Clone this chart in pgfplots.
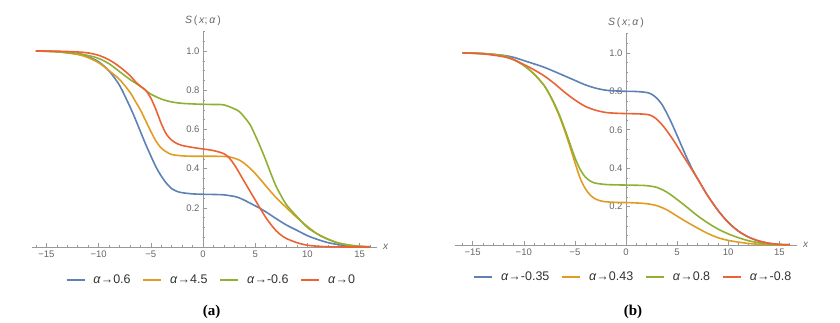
\documentclass[border=0pt]{standalone}
\usepackage{fontspec}
\setmainfont{Liberation Sans}
\newfontfamily\panelfont{Liberation Serif}
\usepackage{pgfplots}
\pgfplotsset{compat=1.18}

\definecolor{mblue}{HTML}{5E81B5}
\definecolor{morange}{HTML}{E19C24}
\definecolor{mgreen}{HTML}{8FB032}
\definecolor{mred}{HTML}{EB6235}

\pgfplotsset{
  mma/.style={
    scale only axis, axis lines=middle,
    axis line style={-, draw=black!40, line width=0.6pt},
    ymin=0, ymax=1.102,
    tick align=inside, major tick length=4pt, minor tick length=2pt,
    every tick/.style={black!40, line width=0.5pt},
    hide obscured x ticks=false,
    xtick={-15,-10,-5,0,5,10,15},
    xticklabels={−15,−10,−5,0,5,10,15},
    minor xtick={-16,...,16},
    ytick={0.2,0.4,0.6,0.8,1.0},
    yticklabels={0.2,0.4,0.6,0.8,1.0},
    minor ytick={0.05,0.1,...,1.1},
    ticklabel style={font=\fontsize{9.5}{11}\selectfont, text=black!60},
    xlabel={\textit{x}},
    xlabel style={at={(rel axis cs:1,0)}, anchor=west, xshift=3pt,
      font=\fontsize{10}{12}\selectfont, text=black!60},
    ylabel={\textit{S}\,(\,\textit{x};\,\textit{α}\,)},
    ylabel style={at={(axis cs:0,1.102)}, anchor=south, rotate=0, yshift=2pt,
      font=\fontsize{10.5}{12}\selectfont, text=black!60},
    every axis plot/.append style={line width=1.6pt, smooth, no markers},
    legend columns=4,
    legend image code/.code={\draw[##1] (0pt,0pt) -- (18pt,0pt);},
    legend style={draw=none, fill=none, anchor=center, inner sep=0pt,
      font=\fontsize{12.5}{14}\selectfont, text=black!80,
      nodes={inner sep=0pt},
      /tikz/every odd column/.append style={column sep=8pt},
      /tikz/every even column/.append style={column sep=12pt}},
  }
}

\begin{document}
\begin{tikzpicture}
\path[use as bounding box] (0pt,0pt) rectangle (840pt,322pt);

% (a)
\begin{axis}[mma, at={(31.7pt,75pt)}, anchor=south west,
  width=345pt, height=216pt, xmin=-16.41, xmax=16.64,
  legend style={at={(0.518,-0.153)}}]
\addplot[mblue] coordinates {
(-16,1.000) (-14,0.997) (-12,0.985) (-11,0.970) (-10,0.945) (-9,0.898) (-8,0.825)
(-7,0.716) (-6.5,0.655) (-6,0.590) (-5.5,0.525) (-5,0.465) (-4.5,0.408) (-4,0.362)
(-3.5,0.325) (-3,0.298) (-2.5,0.284) (-2,0.277) (-1,0.271) (0,0.269) (1,0.268)
(2,0.266) (3,0.258) (3.5,0.250) (4,0.238) (4.5,0.224) (5,0.210) (5.5,0.196)
(6,0.180) (7,0.145) (8,0.112) (9,0.085) (10,0.058) (11,0.038) (12,0.022)
(13,0.012) (14,0.005) (15,0.002) (16,0.0005)};
\addplot[morange] coordinates {
(-16,1.000) (-14,0.996) (-12,0.982) (-11,0.966) (-10,0.940) (-9,0.900) (-8,0.855)
(-7,0.790) (-6.5,0.745) (-6,0.700) (-5.5,0.645) (-5,0.590) (-4.5,0.540) (-4,0.505)
(-3.5,0.485) (-3,0.472) (-2,0.465) (-1,0.463) (0,0.463) (1,0.463) (2,0.462)
(2.5,0.460) (3,0.453) (3.5,0.443) (4,0.425) (4.5,0.402) (5,0.375) (5.5,0.345)
(6,0.313) (6.5,0.282) (7,0.252) (8,0.200) (9,0.150) (10,0.105) (11,0.065)
(12,0.038) (13,0.020) (14,0.009) (15,0.003) (16,0.001)};
\addplot[mgreen] coordinates {
(-16,1.000) (-14,0.996) (-12,0.987) (-11,0.977) (-10,0.962) (-9,0.935) (-8,0.895)
(-7,0.855) (-6,0.820) (-5.5,0.800) (-5,0.780) (-4,0.755) (-3,0.740) (-2,0.733)
(-1,0.730) (0,0.728) (1,0.727) (2,0.725) (3,0.705) (3.5,0.690) (4,0.660)
(4.5,0.625) (5,0.570) (5.5,0.510) (6,0.445) (6.5,0.375) (7,0.310) (7.5,0.260)
(8,0.215) (9,0.155) (10,0.100) (11,0.065) (12,0.040) (13,0.020) (14,0.010)
(15,0.004) (16,0.001)};
\addplot[mred] coordinates {
(-16,1.000) (-14,0.999) (-12,0.995) (-11,0.990) (-10,0.978) (-9,0.955) (-8,0.920)
(-7,0.875) (-6.5,0.845) (-6,0.820) (-5.5,0.800) (-5,0.760) (-4.5,0.700) (-4,0.630)
(-3.5,0.575) (-3,0.545) (-2.5,0.528) (-2,0.518) (-1,0.508) (0,0.500) (1,0.492)
(2,0.476) (2.5,0.455) (3,0.420) (3.5,0.376) (4,0.330) (4.5,0.285) (5,0.240)
(5.5,0.195) (6,0.152) (6.5,0.115) (7,0.083) (7.5,0.060) (8,0.043) (9,0.022)
(10,0.009) (11,0.004) (12,0.001) (14,0) (16,0)};
\legend{\textit{α}→0.6, \textit{α}→4.5, \textit{α}→-0.6, \textit{α}→0}
\end{axis}

% (b)
\begin{axis}[mma, at={(455pt,77pt)}, anchor=south west,
  width=341.7pt, height=211.7pt, xmin=-16.73, xmax=16.7,
  legend style={at={(0.519,-0.151)}}]
\addplot[mblue] coordinates {
(-16,1.000) (-14,0.997) (-12,0.987) (-11,0.977) (-10,0.960) (-9,0.943) (-8,0.925)
(-7,0.903) (-6,0.880) (-5,0.857) (-4,0.834) (-3,0.817) (-2,0.806) (-1,0.802)
(0,0.800) (1,0.799) (2,0.794) (2.5,0.785) (3,0.765) (3.5,0.733) (4,0.685)
(4.5,0.630) (5,0.570) (5.5,0.508) (6,0.448) (6.5,0.393) (7,0.345) (7.5,0.300)
(8,0.256) (9,0.180) (10,0.118) (11,0.072) (12,0.041) (13,0.021) (14,0.009)
(15,0.003) (16,0.001)};
\addplot[morange] coordinates {
(-16,1.000) (-14,0.996) (-12,0.985) (-11,0.965) (-10,0.935) (-9,0.890) (-8,0.830)
(-7.5,0.785) (-7,0.730) (-6.5,0.668) (-6,0.595) (-5.5,0.515) (-5,0.430) (-4.5,0.350)
(-4,0.295) (-3.5,0.260) (-3,0.240) (-2.5,0.230) (-2,0.225) (-1,0.222) (0,0.221)
(1,0.219) (2,0.215) (3,0.205) (4,0.183) (5,0.150) (6,0.118) (7,0.088) (8,0.060)
(9,0.038) (10,0.024) (11,0.015) (12,0.008) (13,0.004) (14,0.002) (15,0.001) (16,0)};
\addplot[mgreen] coordinates {
(-16,1.000) (-14,0.996) (-12,0.985) (-11,0.965) (-10,0.935) (-9,0.890) (-8,0.830)
(-7.5,0.785) (-7,0.735) (-6.5,0.675) (-6,0.605) (-5.5,0.530) (-5,0.455) (-4.5,0.395)
(-4,0.355) (-3.5,0.333) (-3,0.322) (-2,0.315) (-1,0.313) (0,0.312) (1,0.311)
(2,0.309) (3,0.300) (4,0.275) (5,0.237) (6,0.195) (7,0.152) (8,0.115) (9,0.083)
(10,0.058) (11,0.038) (12,0.022) (13,0.012) (14,0.005) (15,0.002) (16,0.0005)};
\addplot[mred] coordinates {
(-16,1.000) (-14,0.995) (-12,0.980) (-11,0.965) (-10,0.940) (-9,0.912) (-8,0.880)
(-7,0.840) (-6,0.795) (-5,0.755) (-4,0.722) (-3,0.702) (-2,0.690) (-1,0.686)
(0,0.684) (1,0.683) (2,0.680) (2.5,0.673) (3,0.655) (3.5,0.628) (4,0.594)
(4.5,0.556) (5,0.515) (5.5,0.472) (6,0.430) (6.5,0.388) (7,0.345) (7.5,0.300)
(8,0.256) (9,0.180) (10,0.118) (11,0.072) (12,0.041) (13,0.021) (14,0.009)
(15,0.003) (16,0.001)};
\legend{\textit{α}→-0.35, \textit{α}→0.43, \textit{α}→0.8, \textit{α}→-0.8}
\end{axis}

\node[font=\panelfont\bfseries\fontsize{15}{17}\selectfont] at (211.7pt,10pt) {(a)};
\node[font=\panelfont\bfseries\fontsize{15}{17}\selectfont] at (633pt,10pt) {(b)};
\end{tikzpicture}
\end{document}
